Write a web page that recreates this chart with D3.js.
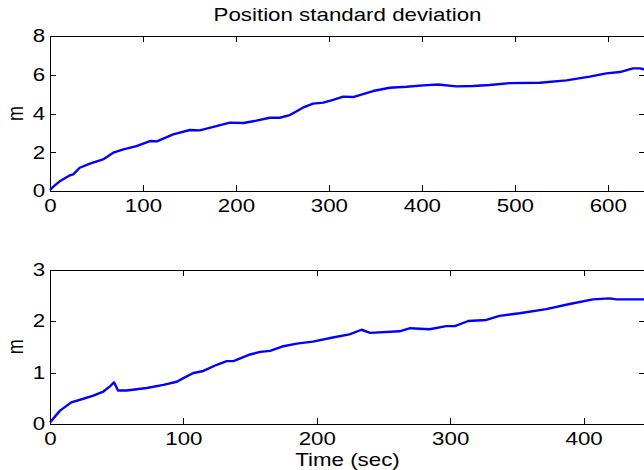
<!DOCTYPE html>
<html lang="en">
<head>
<meta charset="UTF-8">
<title>Position standard deviation</title>
<script src="https://d3js.org/d3.v7.min.js"></script>
<style>
  body { margin: 0; background: #fff; }
  svg text { font-family: "Liberation Sans", Arial, Helvetica, sans-serif; font-size: 18px; fill: #000; }
</style>
</head>
<body>
<svg width="644" height="470"></svg>
<script>
// top panel (full run)
const topTime = [0, 3, 11, 21.5, 25, 32, 43, 57, 68, 79, 93, 107.5, 115, 132.5, 150.5, 161, 179, 193.5, 208, 222, 236.5, 247, 258, 272, 283, 294, 304.5, 315.5, 326, 347.5, 365.5, 383.5, 401.5, 417.5, 437, 455, 473, 494.5, 527, 555.5, 580.5, 598.5, 613, 627, 634.5, 640];
const topStd  = [0.05, 0.2, 0.52, 0.81, 0.86, 1.2, 1.41, 1.63, 1.98, 2.15, 2.32, 2.58, 2.56, 2.92, 3.15, 3.13, 3.35, 3.53, 3.51, 3.63, 3.78, 3.78, 3.92, 4.3, 4.51, 4.56, 4.7, 4.87, 4.85, 5.16, 5.33, 5.38, 5.45, 5.5, 5.4, 5.42, 5.47, 5.57, 5.59, 5.71, 5.9, 6.07, 6.14, 6.33, 6.33, 6.27];
// bottom panel
const botTime = [0, 7.5, 16, 25, 32.5, 40, 45, 48, 51, 57.5, 72.5, 85, 95, 100, 107.5, 115, 125, 132.5, 137.5, 150, 157.5, 165, 175, 185, 197, 212, 224.5, 233.5, 240, 262, 270, 284.5, 297, 303.5, 313.5, 327, 337, 352, 372, 389.5, 407, 419.5, 424.5, 446];
const botStd  = [0.03, 0.26, 0.42, 0.49, 0.55, 0.63, 0.73, 0.81, 0.65, 0.65, 0.70, 0.76, 0.82, 0.89, 0.99, 1.03, 1.15, 1.22, 1.22, 1.35, 1.40, 1.42, 1.51, 1.56, 1.60, 1.68, 1.74, 1.83, 1.77, 1.80, 1.86, 1.84, 1.90, 1.90, 2.0, 2.02, 2.10, 2.15, 2.23, 2.33, 2.42, 2.44, 2.42, 2.42];

const topXTicks = [0, 100, 200, 300, 400, 500, 600];
const topYTicks = [0, 2, 4, 6, 8];
const botXTicks = [0, 100, 200, 300, 400];
const botYTicks = [0, 1, 2, 3];

const titleText = "Position standard deviation";
const yLabel = "m";
const xLabel = "Time (sec)";

const sx = 1.24; // figure text is stretched sideways
const svg = d3.select("svg");
const left = 50, right = 645, tick = 6;
const fmt = d3.format("d");

function panel(top, bottom, xMax, yMax, xTicks, yTicks, time, vals) {
  const x = d3.scaleLinear().domain([0, xMax]).range([left, right]);
  const y = d3.scaleLinear().domain([0, yMax]).range([bottom, top]);
  const g = svg.append("g").attr("shape-rendering", "crispEdges");

  const bx = g.append("g").attr("transform", `translate(0,${bottom})`)
    .call(d3.axisBottom(x).tickValues(xTicks).tickFormat(fmt).tickSizeInner(-tick).tickSizeOuter(0).tickPadding(8.5));
  bx.selectAll("text").attr("transform", `scale(${sx},1)`);
  g.append("g").attr("transform", `translate(0,${top})`)
    .call(d3.axisTop(x).tickValues(xTicks).tickSizeInner(-tick).tickSizeOuter(0).tickFormat(""));
  const ly = g.append("g").attr("transform", `translate(${left},0)`)
    .call(d3.axisLeft(y).tickValues(yTicks).tickFormat(fmt).tickSizeInner(-tick).tickSizeOuter(0).tickPadding(4));
  ly.selectAll("text").attr("transform", `scale(${sx},1)`);
  g.append("g").attr("transform", `translate(${right},0)`)
    .call(d3.axisRight(y).tickValues(yTicks).tickSizeInner(-tick).tickSizeOuter(0).tickFormat(""));
  g.selectAll(".domain, .tick line").attr("stroke", "#000");
  g.selectAll(".tick text").style("font-size", "18px").attr("fill", "#000");

  const line = d3.line().x((d, i) => x(time[i])).y(d => y(d));
  svg.append("path").datum(vals)
    .attr("d", line)
    .attr("fill", "none")
    .attr("stroke", "#0000ff")
    .attr("stroke-width", 2.4)
    .attr("stroke-linejoin", "round");

  svg.append("text")
    .attr("transform", `translate(22.7,${(top + bottom) / 2}) scale(${sx},1) rotate(-90)`)
    .attr("text-anchor", "middle")
    .text(yLabel);
  return { x, y };
}

panel(36, 191, 640, 8, topXTicks, topYTicks, topTime, topStd);
panel(269.5, 424, 446, 3, botXTicks, botYTicks, botTime, botStd);

svg.append("text")
  .attr("transform", `translate(${(left + right) / 2},21) scale(${sx},1)`)
  .attr("text-anchor", "middle")
  .text(titleText);

svg.append("text")
  .attr("transform", `translate(${(left + right) / 2},465.5) scale(${sx},1)`)
  .attr("text-anchor", "middle")
  .text(xLabel);
</script>
</body>
</html>
